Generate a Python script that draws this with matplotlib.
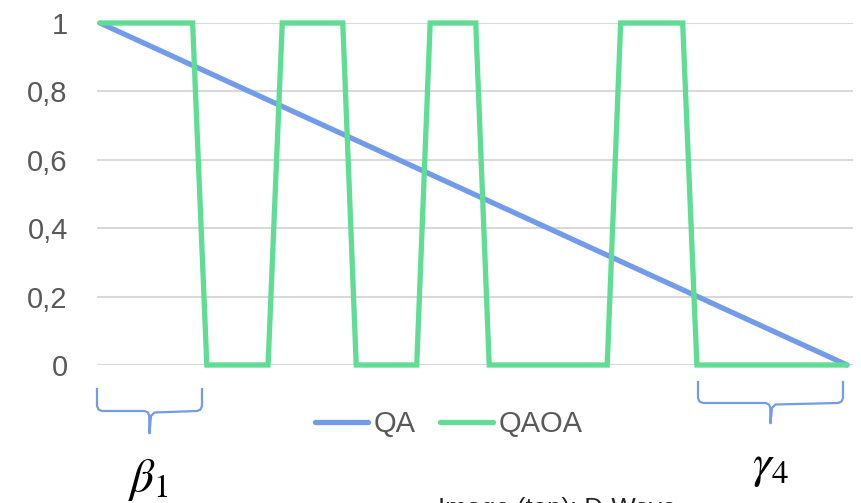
import numpy as np
import matplotlib
matplotlib.use("Agg")
import matplotlib.pyplot as plt
from matplotlib.lines import Line2D

# schedule time (normalised 0..1) and mixing amplitude
qa_t = [0.0, 1.0]
qa_val = [1.0, 0.0]

qaoa_t = [0.0, 0.124, 0.143, 0.225, 0.244, 0.325, 0.343, 0.424,
          0.442, 0.503, 0.521, 0.679, 0.697, 0.780, 0.799, 1.0]
qaoa_val = [1, 1, 0, 0, 1, 1, 0, 0,
            1, 1, 0, 0, 1, 1, 0, 0]

yticks = [0, 0.2, 0.4, 0.6, 0.8, 1.0]
ylabels = ["0", "0,2", "0,4", "0,6", "0,8", "1"]

blue = "#729bea"
green = "#5fdd93"
grey = "#595959"

plt.rcParams['font.family'] = ['Liberation Sans', 'DejaVu Sans']
plt.rcParams['mathtext.fontset'] = 'stix'

W, H = 862, 503
fig = plt.figure(figsize=(W / 100, H / 100), dpi=100)
ax = fig.add_axes([97 / W, 1 - 365 / H, (853 - 97) / W, (365 - 23) / H])

ax.plot(qa_t, qa_val, color=blue, lw=3.8, label="QA", clip_on=False,
        solid_capstyle='round', zorder=3)
ax.plot(qaoa_t, qaoa_val, color=green, lw=3.8, label="QAOA", clip_on=False,
        solid_capstyle='round', solid_joinstyle='miter', zorder=4)

ax.set_xlim(-0.004, 1.008)
ax.set_ylim(0, 1)
ax.set_yticks(yticks)
ax.set_yticklabels(ylabels)
ax.set_xticks([])
ax.tick_params(axis='y', length=0, pad=21, labelsize=21, labelcolor=grey)
ax.grid(axis='y', color="#d9d9d9", lw=1.5)
ax.set_axisbelow(True)
for s in ax.spines.values():
    s.set_visible(False)

leg = fig.legend(loc='center', bbox_to_anchor=(449 / W, 1 - 424 / H), ncol=2,
                 frameon=False, fontsize=21, handlelength=1.8,
                 handletextpad=0.2, columnspacing=0.85)
for t in leg.get_texts():
    t.set_color(grey)


def brace(x0, x1, ytop, ybar, ytip, r=5):
    xm = (x0 + x1) / 2
    xs = [x0, x0, x0 + r * 0.3, x0 + r, xm - r, xm - r * 0.3, xm,
          xm, xm + r * 0.3, xm + r, x1 - r, x1 - r * 0.3, x1, x1]
    ys = [ytop, ybar - r, ybar - r * 0.3, ybar, ybar, ybar + r * 0.3, ybar + r,
          ytip, ybar + r, ybar + r * 0.3, ybar, ybar - r * 0.3, ybar - r, ytop]
    fx = [x / W for x in xs]
    fy = [1 - y / H for y in ys]
    fig.add_artist(Line2D(fx[:8], fy[:8], color=blue, lw=1.6))
    fig.add_artist(Line2D(fx[6:], fy[6:], color=blue, lw=1.6))


brace(97, 202, 389, 411, 433)
brace(698, 843, 382, 403, 423)

fig.text(148 / W, 1 - 480 / H, r"$\beta_1$", fontsize=34, ha='center', va='center')
fig.text(770 / W, 1 - 467 / H, r"$\gamma_4$", fontsize=34, ha='center', va='center')
fig.text(438 / W, 1 - 497 / H, "Image (top): D-Wave", fontsize=18.5,
         ha='left', va='top', color="#222222")

fig.savefig("out.png", dpi=100)
